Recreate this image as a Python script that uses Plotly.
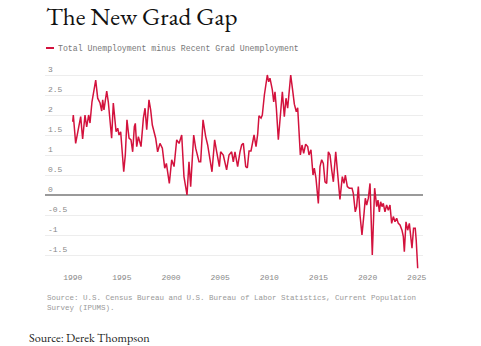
import plotly.graph_objects as go

# ---- data ----
years = [
    1990.00, 1990.06, 1990.30, 1990.81, 1991.01, 1991.25, 1991.42, 1991.62, 1991.76, 1991.96,
    1992.34, 1992.54, 1992.78, 1992.95, 1993.05, 1993.18, 1993.46, 1993.62, 1993.96, 1994.13,
    1994.41, 1994.58, 1994.71, 1994.88, 1995.19, 1995.35, 1995.52, 1995.73, 1995.93, 1996.10,
    1996.27, 1996.37, 1996.51, 1996.68, 1996.95, 1997.19, 1997.36, 1997.53, 1997.76, 1997.93,
    1998.10, 1998.44, 1998.64, 1998.88, 1999.12, 1999.36, 1999.53, 1999.83, 2000.07, 2000.31,
    2000.58, 2000.82, 2001.09, 2001.32, 2001.63, 2001.83, 2002.00, 2002.31, 2002.51, 2002.85,
    2003.02, 2003.26, 2003.53, 2003.73, 2004.17, 2004.44, 2004.65, 2004.92, 2005.05, 2005.32,
    2005.66, 2005.90, 2006.17, 2006.34, 2006.51, 2006.78, 2007.02, 2007.19, 2007.36, 2007.60,
    2007.77, 2007.94, 2008.14, 2008.28, 2008.45, 2008.65, 2008.82, 2008.95, 2009.16, 2009.29,
    2009.50, 2009.80, 2009.94, 2010.07, 2010.31, 2010.45, 2010.58, 2010.72, 2010.92, 2011.19,
    2011.33, 2011.53, 2011.70, 2011.87, 2012.18, 2012.35, 2012.55, 2012.75, 2012.89, 2013.16,
    2013.33, 2013.50, 2013.70, 2013.91, 2014.04, 2014.24, 2014.45, 2014.58, 2014.75, 2014.99,
    2015.16, 2015.33, 2015.50, 2015.67, 2015.84, 2016.01, 2016.18, 2016.35, 2016.52, 2016.76,
    2016.92, 2017.19, 2017.43, 2017.60, 2017.74, 2017.94, 2018.14, 2018.42, 2018.55, 2018.75,
    2018.89, 2019.06, 2019.23, 2019.43, 2019.64, 2019.77, 2019.91, 2020.08, 2020.25, 2020.48,
    2020.72, 2020.93, 2021.06, 2021.20, 2021.33, 2021.47, 2021.60, 2021.77, 2021.94, 2022.11,
    2022.28, 2022.45, 2022.62, 2022.79, 2022.96, 2023.13, 2023.30, 2023.50, 2023.64, 2023.74,
    2023.91, 2024.08, 2024.25, 2024.42, 2024.52, 2024.68, 2024.85, 2024.95, 2025.10,
]
gap = [
    1.83, 2.00, 1.29, 1.96, 1.40, 2.00, 1.70, 2.00, 1.80, 2.33,
    2.87, 2.42, 2.30, 2.10, 2.38, 2.13, 2.60, 2.33, 1.42, 2.30,
    1.58, 1.67, 1.50, 1.58, 0.58, 1.00, 1.88, 1.42, 1.38, 1.08,
    1.71, 1.79, 1.21, 1.46, 1.21, 1.92, 2.17, 1.63, 2.38, 2.13,
    1.75, 1.42, 1.08, 1.29, 1.17, 0.67, 0.79, 0.29, 0.88, 0.71,
    1.38, 1.29, 1.50, 0.46, 0.00, 0.83, 0.21, 1.50, 1.17, 0.83,
    0.83, 1.88, 1.46, 1.25, 0.58, 1.38, 1.08, 0.71, 1.08, 1.00,
    0.63, 1.00, 1.08, 0.83, 1.08, 0.71, 1.08, 1.25, 1.29, 0.71,
    0.68, 1.10, 1.10, 1.27, 1.50, 1.21, 1.52, 1.98, 1.92, 2.00,
    2.50, 3.00, 2.83, 2.92, 2.63, 2.33, 2.58, 2.17, 1.38, 2.17,
    2.58, 1.96, 2.42, 2.17, 3.00, 2.67, 2.27, 2.08, 2.18, 1.00,
    1.25, 1.04, 1.27, 1.21, 1.00, 1.13, 0.50, 0.67, 0.42, -0.21,
    0.71, 0.88, 0.79, 0.33, 0.29, 1.08, 1.00, 0.63, 0.33, 1.08,
    0.63, -0.11, 0.46, 0.29, 0.50, 0.21, 0.17, 0.17, 0.04, -0.42,
    -0.29, 0.21, -0.50, -1.00, -0.46, -0.08, -0.25, -0.08, 0.29, -1.50,
    0.17, -0.29, -0.13, -0.42, -0.17, -0.29, -0.21, -0.42, -0.25, -0.38,
    -0.25, -0.71, -0.54, -0.67, -0.58, -0.71, -0.75, -0.88, -1.04, -1.42,
    -0.67, -0.88, -0.71, -1.08, -1.33, -0.83, -0.83, -1.13, -1.83,
]
x_ticks = [1990, 1995, 2000, 2005, 2010, 2015, 2020, 2025]
y_ticks = [-1.5, -1, -0.5, 0, 0.5, 1, 1.5, 2, 2.5, 3]
y_tick_labels = ["-1.5", "-1", "-0.5", "0", "0.5", "1", "1.5", "2", "2.5", "3"]

series_name = "Total Unemployment minus Recent Grad Unemployment"
title_text = "The New Grad Gap"
source_text = ("Source: U.S. Census Bureau and U.S. Bureau of Labor Statistics, Current Population"
               "<br>Survey (IPUMS).")
credit_text = "Source: Derek Thompson"

RED = "#d3123d"
MONO = "Courier New, Liberation Mono, monospace"
SERIF = "EB Garamond, Liberation Serif, serif"

fig = go.Figure()
fig.add_trace(go.Scatter(
    x=years, y=gap, mode="lines", name=series_name,
    line=dict(color=RED, width=1.5), showlegend=False,
))

W, H = 481, 346
ML, MR, MT, MB = 45, 58, 61, 75
PW, PH = W - ML - MR, H - MT - MB


def px_x(p):
    return (p - ML) / PW


def px_y(p):
    return (H - MB - p) / PH


fig.update_layout(
    width=W, height=H,
    margin=dict(l=ML, r=MR, t=MT, b=MB),
    paper_bgcolor="white", plot_bgcolor="white",
    title=dict(text=title_text, font=dict(family=SERIF, size=25, color="#111"),
               xref="container", yref="container", x=46 / W, xanchor="left",
               y=1 - 16 / H, yanchor="middle"),
    xaxis=dict(range=[1987.18, 2025.64], tickvals=x_ticks, showgrid=False,
               zeroline=False, showline=False, ticks="",
               tickfont=dict(family=MONO, size=8, color="#888")),
    yaxis=dict(range=[-1.9, 3.35], tickvals=y_ticks, ticktext=y_tick_labels,
               ticklabelposition="inside top", showgrid=True, gridcolor="#ededed",
               gridwidth=1, zeroline=True, zerolinecolor="#9a9a9a", zerolinewidth=1.5,
               showline=False, ticks="",
               tickfont=dict(family=MONO, size=8, color="#888")),
    showlegend=False,
)

# legend swatch + text
fig.add_shape(type="line", xref="paper", yref="paper",
              x0=px_x(46), x1=px_x(54), y0=px_y(48), y1=px_y(48),
              line=dict(color=RED, width=2))
fig.add_annotation(text=series_name, xref="paper", yref="paper",
                   x=px_x(56), y=px_y(48), xanchor="left", yanchor="middle",
                   showarrow=False, font=dict(family=MONO, size=8.2, color="#777"))
fig.add_annotation(text=source_text, xref="paper", yref="paper",
                   x=0.0, y=px_y(292), xanchor="left", yanchor="top",
                   align="left", showarrow=False,
                   font=dict(family=MONO, size=7.5, color="#999"))
fig.add_annotation(text=credit_text, xref="paper", yref="paper",
                   x=px_x(27), y=px_y(338), xanchor="left",
                   yanchor="middle", showarrow=False,
                   font=dict(family=SERIF, size=12.2, color="#222"))

fig.write_html("out.html")
